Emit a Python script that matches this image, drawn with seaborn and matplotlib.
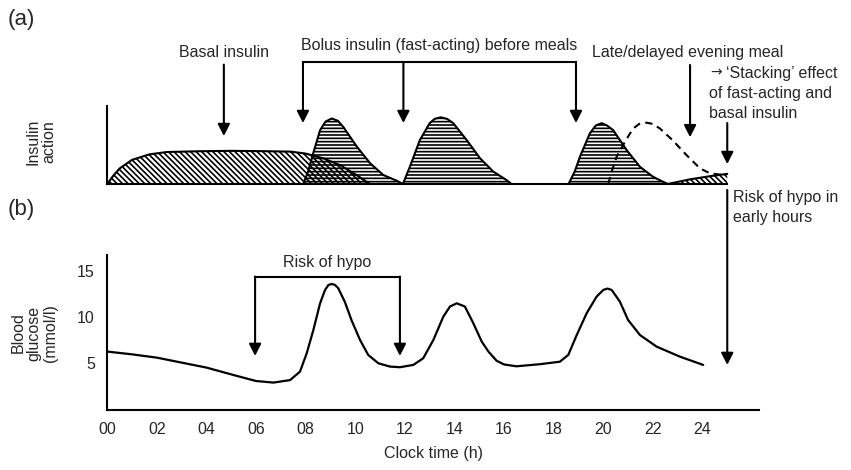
import matplotlib
matplotlib.use("Agg")
import matplotlib.pyplot as plt
import seaborn as sns

sns.set_style("white")
plt.rcParams["font.family"] = ["Liberation Sans", "DejaVu Sans"]
plt.rcParams["hatch.linewidth"] = 1.2
plt.rcParams["hatch.color"] = "black"

# ---- (a) insulin action profiles (arbitrary units, clock hours) ----
basal_hours = [0.0, 0.25, 0.5, 1.0, 1.7, 2.4, 3.7, 5.0, 6.5, 7.4, 8.0, 8.7, 9.4, 10.05, 10.45, 10.6]
basal_level = [0.0, 1.1, 2.0, 3.1, 3.8, 4.1, 4.2, 4.25, 4.2, 4.15, 3.9, 3.3, 2.4, 1.15, 0.3, 0.0]

bolus1_hours = [7.9, 8.1, 8.3, 8.58, 8.8, 9.05, 9.3, 9.52, 10.06, 10.6, 11.13, 11.67, 11.92]
bolus1_level = [0.0, 1.6, 3.9, 6.9, 8.0, 8.4, 8.1, 7.3, 4.8, 2.65, 1.15, 0.42, 0.0]

bolus2_hours = [11.92, 12.2, 12.6, 13.0, 13.2, 13.45, 13.7, 13.95, 14.5, 15.03, 15.56, 16.1, 16.3]
bolus2_level = [0.0, 2.2, 5.6, 7.8, 8.35, 8.55, 8.35, 7.8, 5.6, 3.3, 1.6, 0.5, 0.0]

bolus3_hours = [18.6, 18.85, 19.06, 19.46, 19.7, 19.94, 20.15, 20.4, 20.94, 21.48, 22.0, 22.3, 22.6]
bolus3_level = [0.0, 1.6, 3.5, 6.5, 7.5, 7.8, 7.5, 6.9, 4.36, 2.2, 0.94, 0.45, 0.0]

late_hours = [20.2, 20.35, 20.54, 20.87, 21.2, 21.45, 21.75, 22.0, 22.29, 22.8, 23.36, 23.9, 24.3, 24.84, 25.0]
late_level = [0.0, 1.7, 3.5, 5.4, 7.1, 7.7, 7.86, 7.7, 7.1, 5.6, 3.7, 2.0, 1.37, 1.15, 1.3]

evening_basal_hours = [22.6, 23.5, 24.3, 25.0]
evening_basal_level = [0.0, 0.6, 1.0, 1.3]

# ---- (b) blood glucose (mmol/l) ----
glucose_hours = [0.0, 1.0, 2.0, 3.0, 4.0, 5.08, 6.0, 6.7, 7.37, 7.77, 8.04, 8.31, 8.58, 8.78,
                 8.92, 9.05, 9.18, 9.31, 9.58, 9.85, 10.19, 10.52, 10.93, 11.4, 11.8, 12.34,
                 12.74, 13.15, 13.55, 13.82, 14.09, 14.42, 14.76, 15.1, 15.37, 15.7, 16.0,
                 16.5, 17.45, 18.25, 18.59, 18.93, 19.33, 19.73, 20.0, 20.17, 20.34, 20.67,
                 21.0, 21.48, 22.15, 23.09, 24.03]
glucose_mmol = [6.2, 5.9, 5.54, 5.0, 4.46, 3.66, 3.0, 2.83, 3.1, 4.02, 6.0, 8.55, 11.45, 12.9,
                13.45, 13.55, 13.45, 13.1, 11.6, 9.6, 7.47, 5.84, 4.93, 4.57, 4.5, 4.75,
                5.48, 7.47, 10.0, 11.1, 11.45, 11.1, 9.28, 7.28, 6.2, 5.2, 4.8,
                4.6, 4.83, 5.1, 5.84, 8.0, 10.37, 12.17, 12.9, 13.05, 12.9, 11.63,
                9.64, 8.0, 6.74, 5.65, 4.75]

hour_ticks = list(range(0, 25, 2))
hour_labels = [f"{h:02d}" for h in hour_ticks]
glucose_ticks = [5, 10, 15]

W, H = 851, 470
fig = plt.figure(figsize=(W / 100, H / 100), dpi=100)
x_max = 26.28
ax_b = fig.add_axes([107.3 / W, 60 / H, (759 - 107.3) / W, 155 / H])
ax_a = fig.add_axes([107.3 / W, (H - 184) / H, (759 - 107.3) / W, 78 / H])

FS = 11.5
LW = 1.6
arrow_kw = dict(arrowstyle="-|>,head_length=0.55,head_width=0.28", color="black",
                lw=1.5, mutation_scale=13, shrinkA=0, shrinkB=0)


def down_arrow(ax, x, y_from, y_to):
    ax.annotate("", xy=(x, y_to), xytext=(x, y_from), arrowprops=arrow_kw,
                annotation_clip=False)


# ---------------- panel (a) ----------------
ax = ax_a
diag = "\\" * 6
ax.fill_between(basal_hours, 0, basal_level, facecolor="none", edgecolor="black",
                hatch=diag, linewidth=0)
ax.fill_between(evening_basal_hours, 0, evening_basal_level, facecolor="none",
                edgecolor="black", hatch=diag, linewidth=0)
for hrs, lvl in [(bolus1_hours, bolus1_level), (bolus2_hours, bolus2_level),
                 (bolus3_hours, bolus3_level)]:
    ax.fill_between(hrs, 0, lvl, facecolor="none", edgecolor="black", hatch="-----",
                    linewidth=0)
for hrs, lvl in [(basal_hours, basal_level), (bolus1_hours, bolus1_level),
                 (bolus2_hours, bolus2_level), (bolus3_hours, bolus3_level),
                 (evening_basal_hours, evening_basal_level)]:
    sns.lineplot(x=hrs, y=lvl, color="black", lw=1.5, estimator=None, ax=ax)
sns.lineplot(x=late_hours, y=late_level, color="black", lw=1.5, estimator=None,
             ax=ax).lines[-1].set_dashes((3.5, 2.5))

ax.set_xlim(0, x_max)
ax.set_ylim(0, 10)
ax.set_xticks([])
ax.set_yticks([])
for side in ("top", "right"):
    ax.spines[side].set_visible(False)
for side in ("left", "bottom"):
    ax.spines[side].set_linewidth(1.5)
    ax.spines[side].set_color("black")
ax.spines["bottom"].set_bounds(0, 25)

ax.text(4.7, 16.9, "Basal insulin", ha="center", va="center", fontsize=FS)
down_arrow(ax, 4.7, 15.3, 6.15)

ax.text(13.37, 17.8, "Bolus insulin (fast-acting) before meals", ha="center",
        va="center", fontsize=FS)
ax.plot([7.89, 18.9], [15.6, 15.6], color="black", lw=1.5, clip_on=False,
        solid_capstyle="projecting")
for xb in (7.89, 11.94, 18.9):
    down_arrow(ax, xb, 15.6, 7.82)

ax.text(23.4, 16.9, "Late/delayed evening meal", ha="center", va="center", fontsize=FS)
down_arrow(ax, 23.5, 15.26, 6.0)

ax.text(24.3, 14.3, "\u2192", ha="left", va="center", fontsize=10,
        family=["DejaVu Sans"])
ax.text(24.95, 14.23, "\u2018Stacking\u2019 effect", ha="left", va="center", fontsize=FS)
ax.text(24.26, 10.32, "of fast-acting and\nbasal insulin", ha="left", va="center",
        fontsize=FS, linespacing=1.35)
down_arrow(ax, 25.0, 7.82, 2.56)

ax.text(25.23, -3.0, "Risk of hypo in\nearly hours", ha="left", va="center",
        fontsize=FS, linespacing=1.4)

# ---------------- panel (b) ----------------
ax = ax_b
sns.lineplot(x=glucose_hours, y=glucose_mmol, color="black", lw=LW, estimator=None, ax=ax)
ax.set_xlim(0, x_max)
ax.set_ylim(-0.15, 16.7)
ax.set_xticks(hour_ticks)
ax.set_xticklabels(hour_labels, fontsize=FS)
ax.set_yticks(glucose_ticks)
ax.set_yticklabels([str(v) for v in glucose_ticks], fontsize=FS)
ax.tick_params(axis="both", direction="out", length=5, width=1.5, color="black", pad=4)
for side in ("top", "right"):
    ax.spines[side].set_visible(False)
for side in ("left", "bottom"):
    ax.spines[side].set_linewidth(1.5)
    ax.spines[side].set_color("black")
ax.set_xlabel("Clock time (h)", fontsize=FS, labelpad=6)
ax.set_ylabel("")

ax.text(8.86, 15.84, "Risk of hypo", ha="center", va="center", fontsize=FS)
ax.plot([5.96, 11.8], [14.35, 14.35], color="black", lw=1.5, clip_on=False,
        solid_capstyle="projecting")
for xb in (5.96, 11.8):
    down_arrow(ax, xb, 14.35, 5.73)

# long arrow from panel (a) down to the early-hours trough
down_arrow(ax, 25.0, 23.77, 4.75)

# panel letters and rotated axis titles
fig.text(8 / W, 1 - 20 / H, "(a)", ha="left", va="center", fontsize=16)
fig.text(8 / W, 1 - 210 / H, "(b)", ha="left", va="center", fontsize=16)
fig.text(41 / W, 1 - 142 / H, "Insulin\naction", rotation=90, ha="center", va="center",
         fontsize=FS, linespacing=1.1)
fig.text(34 / W, 1 - 333 / H, "Blood\nglucose\n(mmol/l)", rotation=90, ha="center",
         va="center", fontsize=FS, linespacing=1.1)

fig.savefig("out.png", dpi=100)
